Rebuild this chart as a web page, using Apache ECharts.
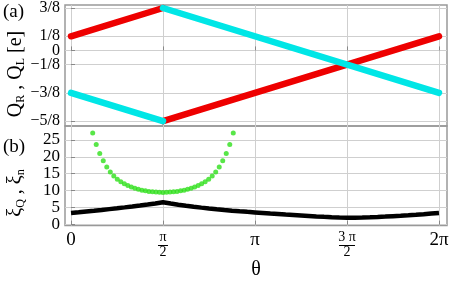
<!DOCTYPE html>
<html><head><meta charset="utf-8">
<script src="https://cdn.jsdelivr.net/npm/echarts@6/dist/echarts.min.js"></script>
<style>html,body{margin:0;padding:0;background:#fff}#c{width:463px;height:281px}</style>
</head><body><div id="c"></div>
<script>
var PI = Math.PI;
// x ticks
var xTickValues = [0, PI/2, PI, 3*PI/2, 2*PI];
var xTickLabels = ['0', 'π/2', 'π', '3 π/2', '2π'];
// top panel ticks
var qTickValues = [0.375, 0.125, 0, -0.125, -0.375, -0.625];
var qTickLabels = ['3/8', '1/8', '0', '−1/8', '−3/8', '−5/8'];
// Q_R (red) segments
var qRed1 = [[0, 0.125], [PI/2, 0.375]];
var qRed2 = [[PI/2, -0.625], [2*PI, 0.125]];
// Q_L (cyan) segments
var qCyan1 = [[0, -0.375], [PI/2, -0.625]];
var qCyan2 = [[PI/2, 0.375], [2*PI, -0.375]];
// xi_Q (green) points: theta from pi/2-1.2 to pi/2+1.2 step 0.06
var xiQTheta0 = PI/2 - 1.2, xiQStep = 0.06;
var xiQ = [27.0, 23.6, 21.0, 18.8, 17.0, 15.5, 14.3, 13.4, 12.65, 12.05, 11.55, 11.1, 10.72, 10.42, 10.16, 9.95, 9.79, 9.67, 9.58, 9.52, 9.50,
           9.52, 9.58, 9.67, 9.79, 9.95, 10.16, 10.42, 10.72, 11.1, 11.55, 12.05, 12.65, 13.4, 14.3, 15.5, 17.0, 18.8, 21.0, 23.6, 27.0];
// xi_n (black) points: theta = k*pi/24
var xiN = [3.40, 3.62, 3.85, 4.08, 4.32, 4.57, 4.82, 5.08, 5.35, 5.63, 5.92, 6.24, 6.60,
           6.22, 5.88, 5.57, 5.28, 5.01, 4.76, 4.53, 4.31, 4.11, 3.93, 3.76, 3.60,
           3.44, 3.28, 3.13, 2.98, 2.84, 2.70, 2.56, 2.42, 2.29, 2.17, 2.08, 2.02,
           2.02, 2.07, 2.15, 2.25, 2.37, 2.50, 2.63, 2.77, 2.92, 3.08, 3.25, 3.42];
var xiTickValues = [0, 5, 10, 15, 20, 25];

var xiQData = xiQ.map(function(v, i){ return [xiQTheta0 + i*xiQStep, v]; });
var xiNData = xiN.map(function(v, i){ return [i*PI/24, v]; });

var serif = 'Liberation Serif';
function xLabel(val){
  var i = xTickValues.findIndex(function(t){ return Math.abs(t - val) < 1e-6; });
  var s = i >= 0 ? xTickLabels[i] : '';
  if (s.indexOf('/') >= 0) {
    var p = s.split('/');
    return '{n|' + p[0] + '}\n{d|' + p[1] + '}';
  }
  return '{m|' + s + '}';
}
function qLabel(val){
  var i = qTickValues.findIndex(function(t){ return Math.abs(t - val) < 1e-6; });
  return i >= 0 ? qTickLabels[i] : '';
}
var frame = '#999';
var gridC = '#cfcfcf';
var chart = echarts.init(document.getElementById('c'));
chart.setOption({
  animation: false,
  grid: [
    {left: 65, right: 16, top: 3, height: 123, show: true, borderColor: frame, borderWidth: 1.5, backgroundColor: 'transparent'},
    {left: 65, right: 16, top: 126, height: 101, show: true, borderColor: frame, borderWidth: 1.5, backgroundColor: 'transparent'}
  ],
  xAxis: [
    {type: 'value', gridIndex: 0, min: -0.1024, max: 6.42,
     axisLine: {show: false}, axisLabel: {show: false},
     axisTick: {show: true, inside: true, length: 4, customValues: xTickValues, lineStyle: {color: '#888'}},
     splitLine: {show: true, lineStyle: {color: gridC, width: 1}}},
    {type: 'value', gridIndex: 1, min: -0.1024, max: 6.42,
     axisLine: {show: false},
     axisTick: {show: true, inside: true, length: 4, customValues: xTickValues, lineStyle: {color: '#888'}},
     splitLine: {show: true, lineStyle: {color: gridC, width: 1}},
     axisLabel: {customValues: xTickValues, margin: 4, formatter: xLabel, color: '#000',
       rich: {
         m: {fontFamily: serif, fontSize: 19, lineHeight: 20, color: '#000'},
         n: {fontFamily: serif, fontSize: 14, lineHeight: 15, color: '#000'},
         d: {fontFamily: serif, fontSize: 14, lineHeight: 15, color: '#000'}
       }},
     name: 'θ', nameLocation: 'middle', nameGap: 33,
     nameTextStyle: {fontFamily: serif, fontSize: 20, color: '#000'}}
  ],
  yAxis: [
    {type: 'value', gridIndex: 0, min: -0.668, max: 0.401,
     axisLine: {show: false},
     axisTick: {show: true, inside: true, length: 4, customValues: qTickValues, lineStyle: {color: '#888'}},
     splitLine: {show: true, lineStyle: {color: gridC, width: 1}},
     axisLabel: {customValues: qTickValues, formatter: qLabel, margin: 5,
       fontFamily: serif, fontSize: 16, color: '#000'}},
    {type: 'value', gridIndex: 1, min: -0.29, max: 29.07,
     axisLine: {show: false},
     axisTick: {show: true, inside: true, length: 4, customValues: xiTickValues, lineStyle: {color: '#888'}},
     splitLine: {show: true, lineStyle: {color: gridC, width: 1}},
     axisLabel: {customValues: xiTickValues, margin: 5,
       fontFamily: serif, fontSize: 17, color: '#000'}}
  ],
  series: [
    {type: 'line', xAxisIndex: 0, yAxisIndex: 0, data: qRed1, showSymbol: false, lineStyle: {color: '#ee0000', width: 6.5, cap: 'round'}},
    {type: 'line', xAxisIndex: 0, yAxisIndex: 0, data: qRed2, showSymbol: false, lineStyle: {color: '#ee0000', width: 6.5, cap: 'round'}},
    {type: 'line', xAxisIndex: 0, yAxisIndex: 0, data: qCyan1, showSymbol: false, lineStyle: {color: '#00e6e6', width: 6.5, cap: 'round'}},
    {type: 'line', xAxisIndex: 0, yAxisIndex: 0, data: qCyan2, showSymbol: false, lineStyle: {color: '#00e6e6', width: 6.5, cap: 'round'}},
    {type: 'line', xAxisIndex: 1, yAxisIndex: 1, data: xiNData, showSymbol: false, smooth: false, lineStyle: {color: '#000', width: 4.5}},
    {type: 'scatter', xAxisIndex: 1, yAxisIndex: 1, data: xiQData, symbol: 'circle', symbolSize: 5, itemStyle: {color: '#2ee01a'}}
  ]
});
var graphics = [
  {type: 'text', id: 'ta', left: 3, top: 3, style: {text: '(a)', fontFamily: serif, fontSize: 19, fill: '#000'}},
  {type: 'text', id: 'tb', left: 3, top: 138, style: {text: '(b)', fontFamily: serif, fontSize: 19, fill: '#000'}},
  {type: 'text', id: 'yq', x: 16, y: 74, rotation: PI/2, style: {
    text: '{q|Q}{s|R}{q| , Q}{s|L}{q| [e]}', align: 'center', verticalAlign: 'middle',
    rich: {q: {fontFamily: serif, fontSize: 20, lineHeight: 22, fill: '#000', color: '#000'},
           s: {fontFamily: serif, fontSize: 12, lineHeight: 22, verticalAlign: 'bottom', fill: '#000', color: '#000'}}}},
  {type: 'text', id: 'yx', x: 16, y: 193, rotation: PI/2, style: {
    text: '{q|ξ}{s|Q}{q| , ξ}{s|n}', align: 'center', verticalAlign: 'middle',
    rich: {q: {fontFamily: serif, fontSize: 20, lineHeight: 22, fill: '#000', color: '#000'},
           s: {fontFamily: serif, fontSize: 12, lineHeight: 22, verticalAlign: 'bottom', fill: '#000', color: '#000'}}}}
];
// fraction bars under the pi/2 and 3pi/2 tick labels
xTickLabels.forEach(function(s, i){
  if (s.indexOf('/') < 0) return;
  var px = chart.convertToPixel({xAxisIndex: 1}, xTickValues[i]);
  var half = s.split('/')[0].length > 1 ? 8 : 5;
  graphics.push({type: 'line', id: 'fb' + i, z: 100, shape: {x1: px - half, y1: 245.5, x2: px + half, y2: 245.5}, style: {stroke: '#000', lineWidth: 1}, silent: true});
});
chart.setOption({graphic: graphics});
</script></body></html>
